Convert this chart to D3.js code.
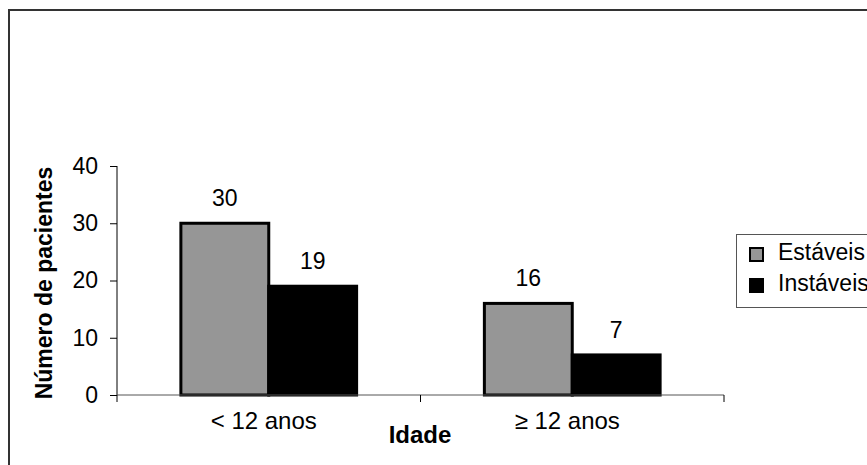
<!DOCTYPE html>
<html>
<head>
<meta charset="utf-8">
<script src="https://cdn.jsdelivr.net/npm/d3@7"></script>
<style>
  html, body { margin: 0; padding: 0; background: #fff; }
  svg { display: block; font-family: "Liberation Sans", Arial, sans-serif; }
</style>
</head>
<body>
<svg id="chart" width="867" height="465"></svg>
<script>
// Patients by age group and stability
const categories = ["< 12 anos", "\u2265 12 anos"];
const seriesNames = ["Estáveis", "Instáveis"];
const estaveis = [30, 16];
const instaveis = [19, 7];
const yTicks = [0, 10, 20, 30, 40];
const yTitle = "Número de pacientes";
const xTitle = "Idade";

const colors = ["#969696", "#000000"];
const seriesValues = [estaveis, instaveis];

const svg = d3.select("#chart");

// outer frame (extends past the right and bottom edges)
svg.append("path")
  .attr("d", "M9,470 L9,10 L875,10")
  .attr("fill", "none")
  .attr("stroke", "#333")
  .attr("stroke-width", 2);

const plot = { left: 117, right: 724, top: 166, bottom: 395 };

const y = d3.scaleLinear().domain([0, 40]).range([plot.bottom, plot.top]);
const x0 = d3.scaleBand().domain(categories).range([plot.left, plot.right]).paddingInner(0).paddingOuter(0);
const x1 = d3.scaleBand().domain(seriesNames).range([0, x0.bandwidth()]).paddingInner(0).paddingOuter(0.727);

// y axis
const yAxis = svg.append("g")
  .attr("transform", `translate(${plot.left},0)`)
  .call(d3.axisLeft(y).tickValues(yTicks).tickSize(7).tickPadding(12).tickFormat(d3.format("d")));
yAxis.selectAll("path, line").attr("stroke", "#000").attr("stroke-width", 1);
yAxis.select(".domain").attr("d", `M0,${plot.top}V${plot.bottom}`);
yAxis.selectAll("text").attr("font-size", 23).attr("fill", "#000")
  .attr("font-family", "Liberation Sans, Arial, sans-serif");

// bars
const groups = svg.append("g").selectAll("g")
  .data(categories)
  .join("g")
  .attr("transform", d => `translate(${x0(d)},0)`);

groups.selectAll("rect")
  .data((c, i) => seriesNames.map((s, j) => ({ s, j, v: seriesValues[j][i] })))
  .join("rect")
  .attr("x", d => x1(d.s))
  .attr("y", d => y(d.v))
  .attr("width", x1.bandwidth())
  .attr("height", d => y(0) - y(d.v))
  .attr("fill", d => colors[d.j])
  .attr("stroke", "#000")
  .attr("stroke-width", 3);

// value labels
groups.selectAll("text.val")
  .data((c, i) => seriesNames.map((s, j) => ({ s, j, v: seriesValues[j][i] })))
  .join("text")
  .attr("class", "val")
  .attr("x", d => x1(d.s) + x1.bandwidth() / 2)
  .attr("y", d => y(d.v) - 17)
  .attr("text-anchor", "middle")
  .attr("font-size", 23)
  .text(d => d.v);

// x axis
const xAxis = svg.append("g")
  .attr("transform", `translate(0,${plot.bottom})`);
xAxis.append("line")
  .attr("x1", plot.left).attr("x2", plot.right)
  .attr("stroke", "#555").attr("stroke-width", 1);
const boundaries = [plot.left, ...categories.map(c => x0(c) + x0.bandwidth())];
xAxis.selectAll("line.tick")
  .data(boundaries)
  .join("line")
  .attr("class", "tick")
  .attr("x1", d => d).attr("x2", d => d)
  .attr("y1", 0).attr("y2", 7)
  .attr("stroke", "#000");
xAxis.selectAll("text")
  .data(categories)
  .join("text")
  .attr("x", d => x0(d) + x0.bandwidth() / 2 - 5)
  .attr("y", 34)
  .attr("text-anchor", "middle")
  .attr("font-size", 24)
  .text(d => d);

// axis titles
svg.append("text")
  .attr("transform", `translate(52,283) rotate(-90)`)
  .attr("text-anchor", "middle")
  .attr("font-weight", "bold")
  .attr("font-size", 23)
  .text(yTitle);

svg.append("text")
  .attr("x", 420)
  .attr("y", 443)
  .attr("text-anchor", "middle")
  .attr("font-weight", "bold")
  .attr("font-size", 24)
  .text(xTitle);

// legend
const legend = svg.append("g").attr("transform", "translate(736,234)");
legend.append("rect")
  .attr("x", 0.5).attr("y", 0.5)
  .attr("width", 160).attr("height", 73)
  .attr("fill", "#fff")
  .attr("stroke", "#555")
  .attr("stroke-width", 1);
const items = legend.selectAll("g.item")
  .data(seriesNames)
  .join("g")
  .attr("class", "item")
  .attr("transform", (d, i) => `translate(0,${13 + i * 31})`);
items.append("rect")
  .attr("x", 14).attr("y", 1)
  .attr("width", 13).attr("height", 13)
  .attr("fill", (d, i) => colors[i])
  .attr("stroke", "#000")
  .attr("stroke-width", 2);
items.append("text")
  .attr("x", 42)
  .attr("y", 13)
  .attr("font-size", 23)
  .text(d => d);
</script>
</body>
</html>
